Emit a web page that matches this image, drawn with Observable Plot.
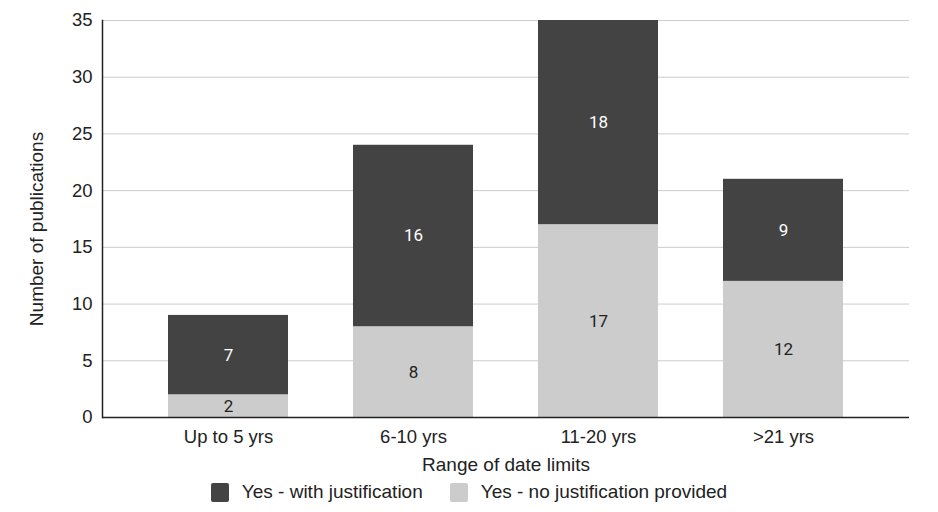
<!DOCTYPE html>
<html>
<head>
<meta charset="utf-8">
<script src="https://cdn.jsdelivr.net/npm/d3@7"></script>
<script src="https://cdn.jsdelivr.net/npm/@observablehq/plot@0.6"></script>
<style>
  body { margin: 0; background: #fff; font-family: "Liberation Sans", Arial, sans-serif; }
  #legend { display: flex; justify-content: center; align-items: center; height: 20px; padding-top: 7px; font-size: 19px; color: #222; }
  .item { display: flex; align-items: center; }
  .sw { width: 18px; height: 19px; border-radius: 2px; margin-right: 13px; }
  .item + .item { margin-left: 27px; }
</style>
</head>
<body>
<div id="chart"></div>
<div id="legend"></div>
<script>
const categories = ["Up to 5 yrs", "6-10 yrs", "11-20 yrs", ">21 yrs"];
const seriesNames = ["Yes - no justification provided", "Yes - with justification"];
const noJustification = [2, 8, 17, 12];
const withJustification = [7, 16, 18, 9];
const yTicks = [0, 5, 10, 15, 20, 25, 30, 35];
const colors = {"Yes - with justification": "#434343", "Yes - no justification provided": "#cccccc"};

const data = [];
categories.forEach((c, i) => {
  data.push({cat: c, series: seriesNames[0], value: noJustification[i]});
  data.push({cat: c, series: seriesNames[1], value: withJustification[i]});
});

const plot = Plot.plot({
  width: 938,
  height: 475,
  marginLeft: 102,
  marginRight: 29,
  marginTop: 20,
  marginBottom: 58,
  style: {fontFamily: "'Liberation Sans', Arial, sans-serif", fontSize: "18.5px", color: "#222"},
  x: {domain: categories, padding: 0.35, label: null},
  y: {domain: [0, 35], label: null},
  color: {domain: seriesNames, range: seriesNames.map(s => colors[s])},
  marks: [
    Plot.gridY(yTicks, {stroke: "#cccccc", strokeOpacity: 1, strokeWidth: 1}),
    Plot.barY(data, Plot.stackY({x: "cat", y: "value", fill: "series", z: "series"})),
    Plot.text(data, Plot.stackY({x: "cat", y: "value", z: "series",
      text: d => d.series === seriesNames[1] ? String(d.value) : null,
      fill: "white", fontSize: 17, fontFamily: "Roboto, sans-serif"})),
    Plot.text(data, Plot.stackY({x: "cat", y: "value", z: "series",
      text: d => d.series === seriesNames[0] ? String(d.value) : null,
      fill: "#222", fontSize: 17, fontFamily: "Roboto, sans-serif"})),
    Plot.ruleY([0], {stroke: "#222", strokeWidth: 1.5}),
    Plot.frame({anchor: "left", stroke: "#222", strokeWidth: 1.5}),
    Plot.axisY({ticks: yTicks, tickSize: 0, tickPadding: 10, fontSize: 18.5, label: null}),
    Plot.axisX({tickSize: 0, tickPadding: 12, label: null, fontSize: 18.5}),
    Plot.text(["Number of publications"], {frameAnchor: "left", textAnchor: "middle", dx: -66, dy: 10, rotate: -90, text: d => d, fontSize: 19, fill: "#222"}),
    Plot.text(["Range of date limits"], {frameAnchor: "bottom", dy: 53, text: d => d, fontSize: 19, fill: "#222"})
  ]
});
document.getElementById("chart").appendChild(plot);

const legend = document.getElementById("legend");
[seriesNames[1], seriesNames[0]].forEach(s => {
  const it = document.createElement("div");
  it.className = "item";
  const sw = document.createElement("div");
  sw.className = "sw";
  sw.style.background = colors[s];
  const t = document.createElement("span");
  t.textContent = s;
  it.appendChild(sw); it.appendChild(t);
  legend.appendChild(it);
});
</script>
</body>
</html>
